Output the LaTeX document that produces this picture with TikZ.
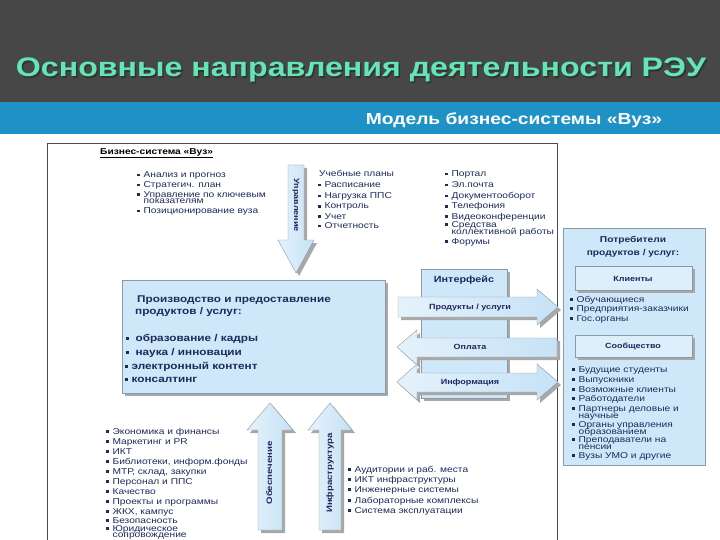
\documentclass[tikz,border=0pt]{standalone}
\usepackage{fontspec}
\setmainfont[FakeStretch=1.2]{Liberation Sans}
\usetikzlibrary{calc}
\definecolor{darkband}{HTML}{474747}
\definecolor{blueband}{HTML}{1E92C6}
\definecolor{titlegreen}{HTML}{62E6B6}
\definecolor{navy}{HTML}{1C2A5C}
\definecolor{boxfill}{HTML}{CFE8F9}
\definecolor{arrowfill}{HTML}{C6E2F6}
\definecolor{shadowgray}{HTML}{A8A8A8}
\definecolor{edgegray}{HTML}{8C9AA8}
\newcommand\bsq{\raisebox{1.5pt}{\rule{2.7pt}{2.7pt}}\hspace{3.7pt}}
\tikzset{
  bul/.style={anchor=west, inner sep=0pt, text=navy, font=\fontsize{8.5}{10}\selectfont, text height=6pt, text depth=2pt},
  boldtxt/.style={anchor=west, inner sep=0pt, text=navy, font=\bfseries\fontsize{9.8}{11}\selectfont, text height=7pt, text depth=2pt},
  lbl/.style={inner sep=0pt, text=navy, font=\bfseries\fontsize{7.5}{9}\selectfont, text height=5.5pt, text depth=1.5pt},
  shapefill/.style={left color=arrowfill!45!white, right color=arrowfill, draw=edgegray, line width=0.4pt},
  shade/.style={fill=shadowgray},
  panel/.style={fill=boxfill, draw=edgegray, line width=0.4pt}
}
\begin{document}
\begin{tikzpicture}[x=1pt,y=-1pt]
\useasboundingbox (0,0) rectangle (720,540);
% background bands
\fill[darkband] (0,0) rectangle (720,102);
\fill[blueband] (0,102) rectangle (720,134);
\fill[white] (0,134) rectangle (720,540);
% title
\node[inner sep=0pt, text=black!80, font=\bfseries\fontsize{26.8}{30}\selectfont] at (362.5,71.5) {Основные направления деятельности РЭУ};
\node[inner sep=0pt, text=titlegreen, font=\bfseries\fontsize{26.8}{30}\selectfont] (title) at (361,70) {Основные направления деятельности РЭУ};
\node[inner sep=0pt, text=white, font=\bfseries\fontsize{16}{18}\selectfont] (subtitle) at (514,120) {Модель бизнес-системы «Вуз»};
% outer system frame
\draw[black!70, line width=0.5pt] (47,541) -- (47,143) -- (557,143) -- (557,541);
\node[anchor=west, inner sep=0pt, text=black, font=\bfseries\fontsize{8.5}{10}\selectfont] (sys) at (100,153) {\underline{Бизнес-система «Вуз»}};

% top-left list
\node[bul] (a1) at (137,176) {\bsq Анализ и прогноз};
\node[bul] (a2) at (137,186) {\bsq Стратегич. план};
\node[bul] (a3) at (137,195) {\bsq Управление по ключевым};
\node[bul] (a3b) at (143.4,202) {показателям};
\node[bul] (a4) at (137,212) {\bsq Позиционирование вуза};

% Upravlenie arrow (down)
\fill[shade] (291,168) -- (307,168) -- (307,243) -- (317,243) -- (299,276) -- (281,243) -- (291,243) -- cycle;
\draw[shapefill] (288,165) -- (304,165) -- (304,240) -- (314,240) -- (296,273) -- (278,240) -- (288,240) -- cycle;
\node[lbl, rotate=-90] (upr) at (296,205) {Управление};

% middle list
\node[bul] (b0) at (319,175) {Учебные планы};
\node[bul] (b1) at (318,186) {\bsq Расписание};
\node[bul] (b2) at (318,197) {\bsq Нагрузка ППС};
\node[bul] (b3) at (318,207) {\bsq Контроль};
\node[bul] (b4) at (318,217) {\bsq Учет};
\node[bul] (b5) at (318,227) {\bsq Отчетность};

% right list
\node[bul] (c1) at (445,175) {\bsq Портал};
\node[bul] (c2) at (445,186) {\bsq Эл.почта};
\node[bul] (c3) at (445,197) {\bsq Документооборот};
\node[bul] (c4) at (445,207) {\bsq Телефония};
\node[bul] (c5) at (445,217) {\bsq Видеоконференции};
\node[bul] (c6) at (445,225) {\bsq Средства};
\node[bul] (c6b) at (451.4,232) {коллективной работы};
\node[bul] (c7) at (445,242) {\bsq Форумы};

% production panel
\fill[shade] (125,283) rectangle (388,396);
\node[panel, minimum width=263pt, minimum height=113pt, anchor=north west, inner sep=0pt] (prod) at (122,280) {};
\node[boldtxt] (p1) at (137,300) {Производство и предоставление};
\node[boldtxt] (p2) at (135,312) {продуктов / услуг:};
\node[boldtxt] (p3) at (126,339) {\bsq\hspace{3pt}образование / кадры};
\node[boldtxt] (p4) at (126,353) {\bsq\hspace{3pt}наука / инновации};
\node[boldtxt] (p5) at (125,367) {\bsq электронный контент};
\node[boldtxt] (p6) at (125,380) {\bsq консалтинг};

% interface column
\fill[shade] (424,272) rectangle (510,401);
\node[panel, minimum width=86pt, minimum height=129pt, anchor=north west, inner sep=0pt] (iface) at (421,269) {};
\node[lbl, font=\bfseries\fontsize{9}{10}\selectfont] (ifl) at (464,280) {Интерфейс};

% products arrow (right)
\fill[shade] (401,300) -- (540,300) -- (540,292) -- (561,310) -- (540,328) -- (540,320) -- (401,320) -- cycle;
\draw[shapefill] (398,297) -- (537,297) -- (537,289) -- (558,307) -- (537,325) -- (537,317) -- (398,317) -- cycle;
\node[lbl] (prl) at (470,307) {Продукты / услуги};

% payment arrow (left)
\fill[shade] (560,341) -- (420,341) -- (420,333) -- (400,350) -- (420,368) -- (420,360) -- (560,360) -- cycle;
\draw[shapefill] (557,338) -- (417,338) -- (417,330) -- (397,347) -- (417,365) -- (417,357) -- (557,357) -- cycle;
\node[lbl] (pay) at (470,347) {Оплата};

% information arrow (double)
\fill[shade] (400,385) -- (420,367) -- (420,376) -- (540,376) -- (540,367) -- (561,385) -- (540,403) -- (540,395) -- (420,395) -- (420,403) -- cycle;
\draw[shapefill] (397,382) -- (417,364) -- (417,373) -- (537,373) -- (537,364) -- (558,382) -- (537,400) -- (537,392) -- (417,392) -- (417,400) -- cycle;
\node[lbl] (inf) at (470,382) {Информация};

% consumers panel
\node[panel, minimum width=142pt, minimum height=237pt, anchor=north west, inner sep=0pt] (cons) at (563,228) {};
\node[lbl, font=\bfseries\fontsize{8.5}{10}\selectfont] (k1) at (633,240) {Потребители};
\node[lbl, font=\bfseries\fontsize{8.5}{10}\selectfont] (k2) at (633,253) {продуктов / услуг:};
\fill[shade] (578,269) rectangle (695,293);
\node[panel, fill=boxfill!70!white, minimum width=117pt, minimum height=24pt, anchor=north west, inner sep=0pt] (cli) at (575,266) {};
\node[lbl] (clil) at (633,279) {Клиенты};
\node[bul] (d1) at (570,300) {\bsq Обучающиеся};
\node[bul] (d2) at (570,309) {\bsq Предприятия-заказчики};
\node[bul] (d3) at (570,319) {\bsq Гос.органы};
\fill[shade] (578,338) rectangle (695,360);
\node[panel, fill=boxfill!70!white, minimum width=117pt, minimum height=22pt, anchor=north west, inner sep=0pt] (com) at (575,335) {};
\node[lbl] (coml) at (633,346) {Сообщество};
\node[bul] (e1) at (572,370) {\bsq Будущие студенты};
\node[bul] (e2) at (572,380) {\bsq Выпускники};
\node[bul] (e3) at (572,390) {\bsq Возможные клиенты};
\node[bul] (e4) at (572,399) {\bsq Работодатели};
\node[bul] (e5) at (572,409) {\bsq Партнеры деловые и};
\node[bul] (e5b) at (578.4,416) {научные};
\node[bul] (e6) at (572,425) {\bsq Органы управления};
\node[bul] (e6b) at (578.4,432) {образованием};
\node[bul] (e7) at (572,440) {\bsq Преподаватели на};
\node[bul] (e7b) at (578.4,447) {пенсии};
\node[bul] (e8) at (572,456) {\bsq Вузы УМО и другие};

% support arrow (up)
\fill[shade] (261,533) -- (261,433) -- (250,433) -- (273,406) -- (296,433) -- (285,433) -- (285,533) -- cycle;
\draw[shapefill] (258,530) -- (258,430) -- (247,430) -- (270,403) -- (293,430) -- (282,430) -- (282,530) -- cycle;
\node[lbl, font=\bfseries\fontsize{8}{9}\selectfont, rotate=90] (obs) at (270,473) {Обеспечение};

% infrastructure arrow (up)
\fill[shade] (322,533) -- (322,433) -- (311,433) -- (333,406) -- (355,433) -- (344,433) -- (344,533) -- cycle;
\draw[shapefill] (319,530) -- (319,430) -- (308,430) -- (330,403) -- (352,430) -- (341,430) -- (341,530) -- cycle;
\node[lbl, font=\bfseries\fontsize{8}{9}\selectfont, rotate=90] (infr) at (330,473) {Инфраструктура};

% bottom-left list
\node[bul] (f1) at (106,432) {\bsq Экономика и финансы};
\node[bul] (f2) at (106,442) {\bsq Маркетинг и PR};
\node[bul] (f3) at (106,452) {\bsq ИКТ};
\node[bul] (f4) at (106,462) {\bsq Библиотеки, информ.фонды};
\node[bul] (f5) at (106,472) {\bsq МТР, склад, закупки};
\node[bul] (f6) at (106,482) {\bsq Персонал и ППС};
\node[bul] (f7) at (106,492) {\bsq Качество};
\node[bul] (f8) at (106,502) {\bsq Проекты и программы};
\node[bul] (f9) at (106,512) {\bsq ЖКХ, кампус};
\node[bul] (f10) at (106,521) {\bsq Безопасность};
\node[bul] (f11) at (106,529) {\bsq Юридическое};
\node[bul] (f11b) at (112.4,535.5) {сопровождение};

% bottom-right list
\node[bul] (g1) at (348,470) {\bsq Аудитории и раб. места};
\node[bul] (g2) at (348,480) {\bsq ИКТ инфраструктуры};
\node[bul] (g3) at (348,490) {\bsq Инженерные системы};
\node[bul] (g4) at (348,501) {\bsq Лабораторные комплексы};
\node[bul] (g5) at (348,511) {\bsq Система эксплуатации};
\end{tikzpicture}
\end{document}
